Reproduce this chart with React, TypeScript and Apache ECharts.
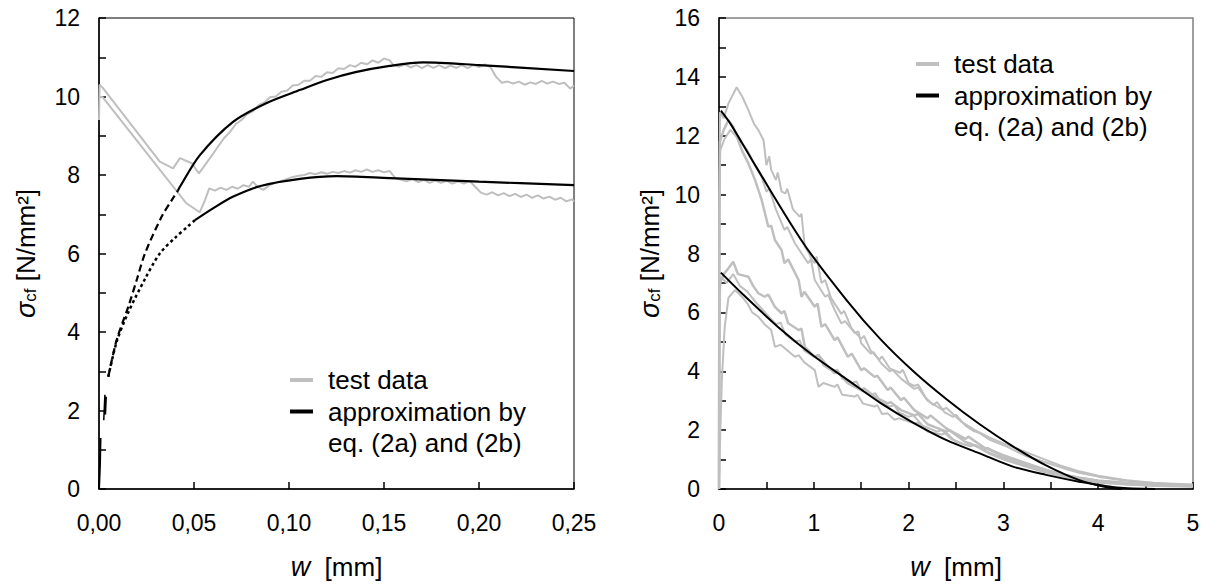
import React, { useEffect, useRef } from 'react';
import * as echarts from 'echarts';

// ---------- LEFT PANEL DATA (w in mm, sigma in N/mm²) ----------
const leftTestUpper: number[][] = [
  [0, 9.4], [0.0003, 10.3], [0.002, 10.22], [0.032, 8.34], [0.039, 8.17], [0.0426, 8.43], [0.0488, 8.3], [0.0526, 8.04],
  [0.0602, 8.55], [0.063, 8.75], [0.066, 8.95], [0.069, 9.1], [0.072, 9.3], [0.075, 9.4], [0.078, 9.55], [0.081, 9.62],
  [0.084, 9.78], [0.087, 9.85], [0.09, 9.98], [0.093, 10.0], [0.096, 10.12], [0.099, 10.15], [0.102, 10.28], [0.105, 10.3],
  [0.108, 10.4], [0.111, 10.4], [0.114, 10.52], [0.117, 10.5], [0.12, 10.62], [0.123, 10.6], [0.126, 10.72], [0.129, 10.7],
  [0.132, 10.8], [0.135, 10.76], [0.138, 10.86], [0.141, 10.82], [0.144, 10.92], [0.147, 10.86], [0.15, 10.97], [0.153, 10.92],
  [0.155, 10.8], [0.158, 10.76], [0.161, 10.82], [0.164, 10.74], [0.167, 10.8], [0.17, 10.72], [0.173, 10.8], [0.176, 10.73],
  [0.179, 10.8], [0.182, 10.72], [0.185, 10.79], [0.188, 10.73], [0.191, 10.8], [0.194, 10.72], [0.197, 10.8], [0.2, 10.75],
  [0.203, 10.82], [0.206, 10.75], [0.209, 10.5], [0.212, 10.35], [0.215, 10.38], [0.218, 10.33], [0.221, 10.38], [0.224, 10.3],
  [0.227, 10.36], [0.23, 10.32], [0.233, 10.4], [0.236, 10.33], [0.239, 10.38], [0.242, 10.32], [0.245, 10.35], [0.248, 10.2],
  [0.25, 10.28],
];
const leftTestLower: number[][] = [
  [0, 10.0], [0.002, 9.98], [0.046, 7.28], [0.053, 7.05], [0.0558, 7.36], [0.058, 7.66], [0.061, 7.6], [0.064, 7.68],
  [0.067, 7.62], [0.07, 7.7], [0.073, 7.65], [0.076, 7.74], [0.079, 7.7], [0.081, 7.83], [0.0835, 7.7], [0.0865, 7.62],
  [0.09, 7.75], [0.093, 7.8], [0.096, 7.85], [0.099, 7.9], [0.102, 7.95], [0.105, 7.98], [0.108, 8.0], [0.111, 8.05],
  [0.114, 8.02], [0.117, 8.07], [0.12, 8.03], [0.123, 8.08], [0.126, 8.05], [0.129, 8.1], [0.132, 8.06], [0.135, 8.12],
  [0.138, 8.08], [0.141, 8.14], [0.144, 8.08], [0.147, 8.12], [0.15, 8.07], [0.153, 8.1], [0.156, 7.92], [0.159, 7.88],
  [0.162, 7.84], [0.165, 7.9], [0.168, 7.82], [0.171, 7.88], [0.174, 7.8], [0.177, 7.86], [0.18, 7.8], [0.183, 7.85],
  [0.186, 7.78], [0.189, 7.84], [0.192, 7.78], [0.195, 7.85], [0.198, 7.7], [0.201, 7.55], [0.204, 7.5], [0.207, 7.56],
  [0.21, 7.48], [0.213, 7.54], [0.216, 7.46], [0.219, 7.52], [0.222, 7.44], [0.225, 7.5], [0.228, 7.42], [0.231, 7.48],
  [0.234, 7.4], [0.237, 7.45], [0.24, 7.37], [0.243, 7.42], [0.246, 7.33], [0.249, 7.38], [0.25, 7.32],
];
const leftApproxStart: number[][] = [[0, 0], [0.0005, 0.6], [0.0008, 1.3]];
const leftApproxKink: number[][] = [[0.0025, 1.75], [0.0031, 2.4], [0.0034, 1.9], [0.0038, 2.35]];
const leftApproxUpperDashed: number[][] = [
  [0.0049, 2.86], [0.0093, 3.8], [0.0154, 4.64], [0.02, 5.35], [0.0242, 6.0], [0.033, 6.94], [0.0383, 7.36], [0.0415, 7.6],
];
const leftApproxUpperSolid: number[][] = [
  [0.0415, 7.6], [0.0426, 7.7], [0.053, 8.5], [0.0707, 9.36], [0.088, 9.83], [0.106, 10.17], [0.12, 10.42], [0.135, 10.62],
  [0.153, 10.78], [0.1707, 10.87], [0.2, 10.8], [0.25, 10.65],
];
const leftApproxLowerDotted: number[][] = [
  [0.0049, 2.86], [0.0093, 3.75], [0.0154, 4.5], [0.0242, 5.35], [0.032, 6.0], [0.04, 6.4], [0.047, 6.7], [0.0505, 6.85],
];
const leftApproxLowerSolid: number[][] = [
  [0.0505, 6.85], [0.06, 7.15], [0.0707, 7.45], [0.085, 7.72], [0.1058, 7.9], [0.125, 7.97], [0.153, 7.92], [0.2, 7.83], [0.25, 7.74],
];

// ---------- RIGHT PANEL DATA ----------
const rightTestA: number[][] = [
  [0, 0], [0.005, 10], [0.01, 12.8], [0.05, 12.6], [0.1, 13.1], [0.186, 13.65], [0.25, 13.3], [0.31, 12.87], [0.37, 12.4],
  [0.415, 12.19], [0.47, 11.85], [0.5, 11.0], [0.53, 11.3], [0.55, 10.84], [0.6, 10.5], [0.62, 10.75], [0.66, 10.1],
  [0.7, 10.04], [0.72, 10.2], [0.78, 9.5], [0.85, 9.25], [0.87, 9.35], [0.905, 8.23], [0.95, 8.0], [0.98, 7.78],
  [1.01, 7.67], [1.03, 7.9], [1.08, 7.0], [1.12, 7.1], [1.18, 6.5], [1.29, 5.95], [1.32, 6.05], [1.4, 5.45], [1.5, 5.1],
  [1.53, 5.2], [1.6, 4.7], [1.69, 4.4], [1.72, 4.5], [1.8, 4.1], [1.91, 3.95], [1.94, 4.05], [2.0, 3.6], [2.06, 3.5],
  [2.1, 3.55], [2.18, 3.1], [2.26, 2.85], [2.3, 2.95], [2.38, 2.6], [2.47, 2.45], [2.5, 2.52], [2.6, 2.15], [2.68, 1.98],
  [2.75, 1.9], [2.85, 1.68], [3.03, 1.45], [3.24, 1.12], [3.45, 0.9], [3.66, 0.68], [3.8, 0.55], [4.0, 0.42], [4.25, 0.3],
  [4.5, 0.22], [4.75, 0.17], [5.0, 0.14],
];
const rightTestB: number[][] = [
  [0, 0], [0.003, 8], [0.01, 11.8], [0.05, 12.2], [0.1, 12.53], [0.15, 12.3], [0.24, 11.51], [0.31, 11.06], [0.38, 10.5],
  [0.45, 9.82], [0.52, 8.91], [0.55, 8.95], [0.59, 8.46], [0.66, 8.12], [0.69, 7.67], [0.73, 7.8], [0.84, 7.1], [0.87, 6.53],
  [0.9, 6.7], [1.01, 6.19], [1.04, 6.3], [1.08, 5.51], [1.12, 5.6], [1.22, 5.06], [1.25, 5.15], [1.36, 4.49], [1.4, 4.6],
  [1.5, 4.04], [1.53, 4.1], [1.64, 3.81], [1.67, 3.85], [1.78, 3.36], [1.81, 3.45], [1.92, 3.02], [1.95, 3.1], [2.06, 2.68],
  [2.2, 2.4], [2.23, 2.5], [2.4, 2.05], [2.6, 1.7], [2.63, 1.78], [2.8, 1.4], [3.0, 1.15], [3.2, 0.92], [3.4, 0.7],
  [3.6, 0.5], [3.8, 0.38], [4.0, 0.28], [4.3, 0.2], [4.6, 0.14], [5.0, 0.1],
];
const rightTestC: number[][] = [
  [0, 0], [0.004, 9.5], [0.012, 11.5], [0.06, 11.9], [0.12, 12.2], [0.2, 11.9], [0.3, 11.5], [0.38, 11.0], [0.45, 10.6],
  [0.5, 10.1], [0.53, 10.2], [0.6, 9.5], [0.69, 8.8], [0.72, 8.9], [0.8, 8.35], [0.94, 7.67], [0.97, 7.8], [1.01, 7.1],
  [1.12, 6.53], [1.15, 6.6], [1.22, 6.08], [1.29, 5.63], [1.33, 5.7], [1.43, 5.3], [1.47, 5.35], [1.5, 4.95], [1.6, 4.6],
  [1.63, 4.65], [1.71, 4.27], [1.8, 4.0], [1.83, 4.05], [1.92, 3.75], [2.06, 3.4], [2.1, 3.45], [2.2, 3.0], [2.35, 2.7],
  [2.4, 2.75], [2.55, 2.3], [2.7, 2.0], [2.85, 1.75], [3.0, 1.55], [3.2, 1.3], [3.4, 1.05], [3.6, 0.8], [3.8, 0.6],
  [4.0, 0.45], [4.3, 0.3], [4.6, 0.2], [5.0, 0.15],
];
const rightTestD: number[][] = [
  [0, 0], [0.003, 5], [0.01, 7.0], [0.05, 7.3], [0.1, 7.5], [0.15, 7.72], [0.2, 7.3], [0.31, 7.21], [0.36, 6.9],
  [0.415, 6.65], [0.48, 6.53], [0.52, 6.6], [0.59, 6.19], [0.66, 5.97], [0.69, 6.05], [0.73, 5.63], [0.84, 5.4],
  [0.87, 5.45], [0.905, 4.83], [1.01, 4.49], [1.05, 4.55], [1.12, 4.27], [1.22, 3.93], [1.25, 4.0], [1.36, 3.59],
  [1.5, 3.36], [1.53, 3.42], [1.64, 3.14], [1.78, 2.91], [1.81, 2.95], [1.92, 2.68], [2.06, 2.5], [2.1, 2.55], [2.2, 2.2],
  [2.4, 1.95], [2.43, 2.0], [2.6, 1.6], [2.8, 1.35], [2.83, 1.4], [3.0, 1.1], [3.2, 0.9], [3.4, 0.7], [3.6, 0.5],
  [3.8, 0.38], [4.0, 0.28], [4.3, 0.2], [4.6, 0.14], [5.0, 0.1],
];
const rightTestE: number[][] = [
  [0, 0], [0.01, 1.5], [0.03, 3.7], [0.06, 5.5], [0.1, 6.5], [0.17, 6.76], [0.25, 6.5], [0.3, 6.3], [0.35, 6.0],
  [0.415, 5.85], [0.48, 5.6], [0.55, 5.4], [0.59, 4.83], [0.65, 4.9], [0.8, 4.49], [0.84, 4.55], [0.9, 4.3], [1.01, 4.04],
  [1.05, 3.47], [1.1, 3.6], [1.22, 3.47], [1.25, 3.55], [1.3, 3.2], [1.43, 3.14], [1.46, 3.2], [1.52, 2.9], [1.64, 2.8],
  [1.67, 2.85], [1.72, 2.55], [1.78, 2.57], [1.85, 2.35], [1.9, 2.4], [2.06, 2.23], [2.1, 2.25], [2.2, 1.95], [2.35, 1.85],
  [2.4, 1.9], [2.5, 1.6], [2.65, 1.45], [2.7, 1.5], [2.85, 1.2], [3.0, 1.0], [3.2, 0.8], [3.4, 0.6], [3.6, 0.45],
  [3.8, 0.32], [4.0, 0.22], [4.3, 0.15], [4.6, 0.1], [5.0, 0.08],
];
const rightTestF: number[][] = [
  [0, 0], [0.004, 6.5], [0.02, 7.2], [0.08, 7.0], [0.15, 7.3], [0.22, 6.9], [0.3, 6.7], [0.4, 6.3], [0.5, 5.95], [0.6, 5.6],
  [0.65, 5.65], [0.7, 5.25], [0.8, 5.0], [0.85, 5.05], [0.9, 4.7], [1.0, 4.5], [1.05, 4.55], [1.1, 4.2], [1.2, 4.0],
  [1.25, 4.05], [1.3, 3.75], [1.4, 3.6], [1.45, 3.65], [1.5, 3.35], [1.6, 3.2], [1.65, 3.25], [1.7, 2.95], [1.8, 2.8],
  [1.85, 2.85], [1.9, 2.6], [2.0, 2.45], [2.05, 2.5], [2.15, 2.15], [2.3, 1.95], [2.35, 2.0], [2.45, 1.7], [2.6, 1.5],
  [2.65, 1.55], [2.8, 1.3], [3.0, 1.05], [3.2, 0.85], [3.4, 0.62], [3.6, 0.45], [3.8, 0.32], [4.0, 0.22], [4.3, 0.15],
  [4.6, 0.12], [5.0, 0.1],
];
const rightApproxUpper: number[][] = [
  [0.02, 12.85], [0.13, 12.36], [0.4, 10.9], [0.89, 8.35], [1.345, 6.42], [1.7, 5.1], [2.05, 4.0], [2.4, 3.05], [2.75, 2.2],
  [3.1, 1.45], [3.45, 0.8], [3.8, 0.3], [4.1, 0.05], [4.25, 0.0],
];
const rightApproxLower: number[][] = [
  [0.02, 7.35], [0.24, 6.65], [0.66, 5.4], [1.01, 4.49], [1.36, 3.7], [1.71, 2.91], [2.06, 2.23], [2.4, 1.66], [2.75, 1.21],
  [3.1, 0.76], [3.45, 0.48], [3.8, 0.25], [4.2, 0.05], [4.6, 0.0],
];

const leftXTicks = { min: 0, max: 0.25, interval: 0.05 };
const leftYTicks = { min: 0, max: 12, interval: 2 };
const rightXTicks = { min: 0, max: 5, interval: 1 };
const rightYTicks = { min: 0, max: 16, interval: 2 };

const legendLabels = ['test data', 'approximation by', 'eq. (2a) and (2b)'];

const GRAY = '#bfbfbf';
const FONT = 'Liberation Sans, Arial, sans-serif';

const fmtComma = (v: number) => v.toFixed(2).replace('.', ',');

function buildOption() {
  const axisLine = { show: true, onZero: false, lineStyle: { color: '#000', width: 1.5 } };
  const axisTick = { show: true, inside: true, length: 7, lineStyle: { color: '#000', width: 1.5 } };
  const minorTick = { show: true, splitNumber: 2, length: 7, lineStyle: { color: '#000', width: 1.5 } };
  const axisLabelBase = { color: '#000', fontSize: 23, fontFamily: FONT };
  const nameStyle = {
    color: '#000',
    fontSize: 26,
    fontFamily: FONT,
    rich: {
      i: { fontStyle: 'italic', fontSize: 27, fontFamily: FONT, color: '#000' },
      sub: { fontSize: 17, fontFamily: FONT, color: '#000', verticalAlign: 'bottom', lineHeight: 26 },
      t: { fontSize: 26, fontFamily: FONT, color: '#000' },
    },
  };
  const xName = '{i|w}{t|  [mm]}';
  const yName = '{i|σ}{sub|cf}{t| [N/mm²]}';

  const line = (data: number[][], xi: number, color: string, width: number, extra: any = {}) => ({
    type: 'line',
    xAxisIndex: xi,
    yAxisIndex: xi,
    data,
    showSymbol: false,
    symbol: 'none',
    silent: true,
    lineStyle: { color, width, ...(extra.lineStyle || {}) },
    smooth: extra.smooth || false,
    z: extra.z || 2,
  });

  const legend = (x: number, y: number) => [
    { type: 'line', shape: { x1: x, y1: y, x2: x + 23, y2: y }, style: { stroke: GRAY, lineWidth: 4 } },
    { type: 'line', shape: { x1: x, y1: y + 31.5, x2: x + 23, y2: y + 31.5 }, style: { stroke: '#000', lineWidth: 4 } },
    { type: 'text', x: x + 38, y, style: { text: legendLabels[0], fontSize: 26, fontFamily: FONT, fill: '#000', verticalAlign: 'middle' } },
    { type: 'text', x: x + 38, y: y + 31.5, style: { text: legendLabels[1], fontSize: 26, fontFamily: FONT, fill: '#000', verticalAlign: 'middle' } },
    { type: 'text', x: x + 38, y: y + 62.5, style: { text: legendLabels[2], fontSize: 26, fontFamily: FONT, fill: '#000', verticalAlign: 'middle' } },
  ];

  return {
    animation: false,
    backgroundColor: '#fff',
    grid: [
      { left: 99, top: 18, width: 475, height: 471, show: true, borderColor: '#000', borderWidth: 1, backgroundColor: 'transparent' },
      { left: 719, top: 18, width: 474, height: 471, show: true, borderColor: '#808080', borderWidth: 1.5, backgroundColor: 'transparent' },
    ],
    xAxis: [
      {
        type: 'value', gridIndex: 0, ...leftXTicks, axisLine, axisTick, splitLine: { show: false },
        axisLabel: { ...axisLabelBase, margin: 22, formatter: fmtComma },
        name: xName, nameLocation: 'middle', nameGap: 64, nameTextStyle: nameStyle,
      },
      {
        type: 'value', gridIndex: 1, ...rightXTicks, axisLine, axisTick, minorTick, splitLine: { show: false }, minorSplitLine: { show: false },
        axisLabel: { ...axisLabelBase, margin: 22 },
        name: xName, nameLocation: 'middle', nameGap: 64, nameTextStyle: nameStyle,
      },
    ],
    yAxis: [
      {
        type: 'value', gridIndex: 0, ...leftYTicks, axisLine, axisTick, minorTick, splitLine: { show: false }, minorSplitLine: { show: false },
        axisLabel: { ...axisLabelBase, margin: 19 },
        name: yName, nameLocation: 'middle', nameGap: 60, nameRotate: 90, nameTextStyle: nameStyle,
      },
      {
        type: 'value', gridIndex: 1, ...rightYTicks, axisLine, axisTick, minorTick, splitLine: { show: false }, minorSplitLine: { show: false },
        axisLabel: { ...axisLabelBase, margin: 19 },
        name: yName, nameLocation: 'middle', nameGap: 56, nameRotate: 90, nameTextStyle: nameStyle,
      },
    ],
    series: [
      line(leftTestUpper, 0, GRAY, 2),
      line(leftTestLower, 0, GRAY, 2),
      line(leftApproxStart, 0, '#000', 2, { z: 3 }),
      line(leftApproxKink, 0, '#000', 1.5, { z: 3 }),
      line(leftApproxUpperDashed, 0, '#000', 2.2, { smooth: 0.3, z: 3, lineStyle: { type: [7, 4] } }),
      line(leftApproxUpperSolid, 0, '#000', 2.2, { smooth: 0.3, z: 3 }),
      line(leftApproxLowerDotted, 0, '#000', 2.5, { smooth: 0.3, z: 3, lineStyle: { type: [3, 3] } }),
      line(leftApproxLowerSolid, 0, '#000', 2.2, { smooth: 0.3, z: 3 }),

      line(rightTestA, 1, GRAY, 2),
      line(rightTestB, 1, GRAY, 2.5),
      line(rightTestC, 1, GRAY, 2),
      line(rightTestD, 1, GRAY, 2.5),
      line(rightTestE, 1, GRAY, 2),
      line(rightTestF, 1, GRAY, 2),
      line(rightApproxUpper, 1, '#000', 2, { smooth: 0.3, z: 3 }),
      line(rightApproxLower, 1, '#000', 2, { smooth: 0.3, z: 3 }),
    ],
    graphic: [...legend(290, 380), ...legend(916, 64)],
  };
}

export default function App() {
  const ref = useRef<HTMLDivElement>(null);
  useEffect(() => {
    document.body.style.margin = '0';
    const chart = echarts.init(ref.current!, null, { renderer: 'svg' });
    chart.setOption(buildOption() as any);
    return () => chart.dispose();
  }, []);
  return <div ref={ref} style={{ width: 1209, height: 585 }} />;
}
